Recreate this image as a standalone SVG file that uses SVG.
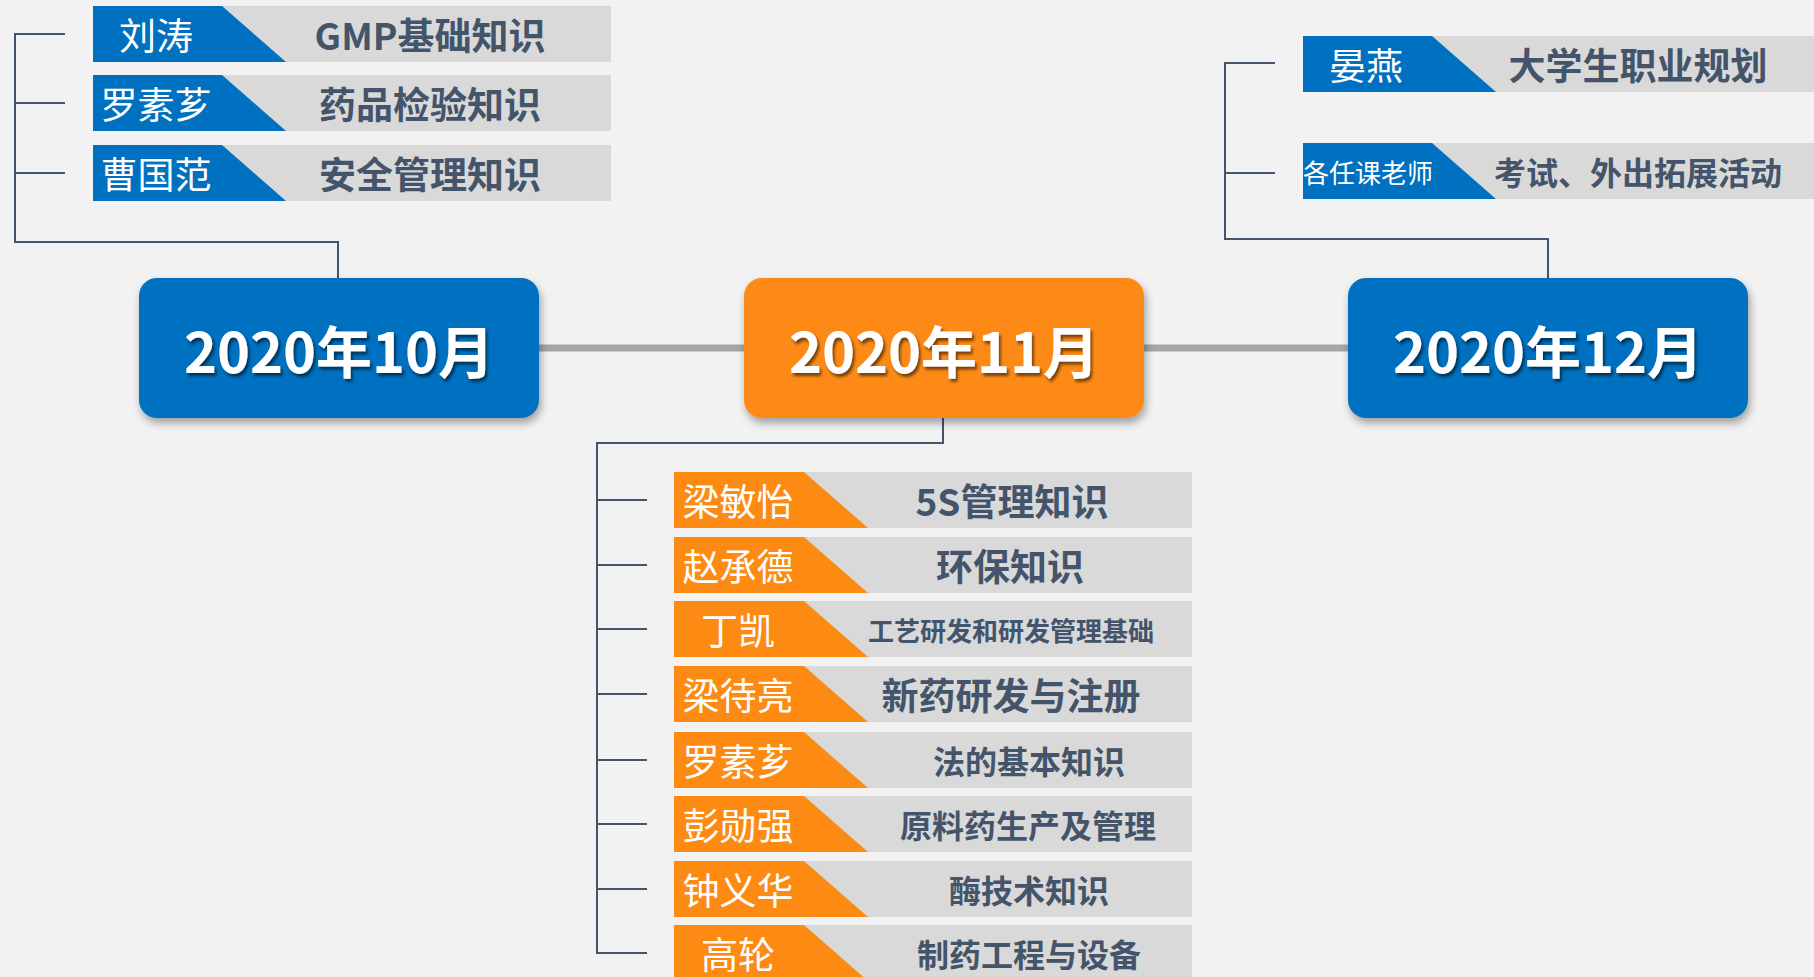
<svg xmlns="http://www.w3.org/2000/svg" width="1814" height="977" viewBox="0 0 1814 977">
<defs>
<style>
.bg{fill:#F2F2F2}
.bar{fill:#D9D9D9}
.blue{fill:#0070C0}
.orange{fill:#FD8A13}
.name{font-family:"Noto Sans CJK SC","Noto Sans",sans-serif;fill:#FFFFFF;font-weight:400;text-anchor:middle;dominant-baseline:central}
.topic{font-family:"Noto Sans CJK SC","Noto Sans",sans-serif;fill:#44546A;font-weight:700;text-anchor:middle;dominant-baseline:central}
.month{font-family:"Noto Sans CJK SC","Noto Sans",sans-serif;fill:#FFFFFF;font-weight:700;font-size:56px;text-anchor:middle;dominant-baseline:central}
.conn{fill:none;stroke:#44546A;stroke-width:2}
.timeline{fill:none;stroke:#A6A6A6;stroke-width:7}
</style>
<filter id="nodeShadow" x="-10%" y="-10%" width="125%" height="135%">
<feDropShadow dx="2" dy="5" stdDeviation="4" flood-color="#000" flood-opacity="0.35"/>
</filter>
<filter id="textShadow" x="-10%" y="-20%" width="125%" height="150%">
<feDropShadow dx="2" dy="3" stdDeviation="1.5" flood-color="#000" flood-opacity="0.55"/>
</filter>
</defs>
<rect class="bg" x="0" y="0" width="1814" height="977"/>

<g id="connectors">
<line class="timeline" x1="539" y1="348" x2="744" y2="348"/>
<line class="timeline" x1="1144" y1="348" x2="1348" y2="348"/>
<path class="conn" d="M338 278 V242 H15 V34 H65 M15 103 H65 M15 173 H65"/>
<path class="conn" d="M1548 278 V239 H1225 V63 H1275 M1225 173 H1275"/>
<path class="conn" d="M943 418 V443 H597 V953 H647 M597 500 H647 M597 565 H647 M597 629 H647 M597 694 H647 M597 760 H647 M597 824 H647 M597 889 H647"/>
</g>

<g id="node-oct">
<rect x="139" y="278" width="400" height="140" rx="18" class="blue" filter="url(#nodeShadow)"/>
<text x="339" y="348" class="month" filter="url(#textShadow)">2020年10月</text>
</g>
<g id="node-nov">
<rect x="744" y="278" width="400" height="140" rx="18" class="orange" filter="url(#nodeShadow)"/>
<text x="944" y="348" class="month" filter="url(#textShadow)">2020年11月</text>
</g>
<g id="node-dec">
<rect x="1348" y="278" width="400" height="140" rx="18" class="blue" filter="url(#nodeShadow)"/>
<text x="1548" y="348" class="month" filter="url(#textShadow)">2020年12月</text>
</g>

<g id="oct-1">
<rect class="bar" x="93" y="6" width="518" height="56"/>
<polygon class="blue" points="93,6 222,6 286,62 93,62"/>
<text class="name" x="156" y="34" font-size="37">刘涛</text>
<text class="topic" x="430" y="34" font-size="37">GMP基础知识</text>
</g>
<g id="oct-2">
<rect class="bar" x="93" y="75" width="518" height="56"/>
<polygon class="blue" points="93,75 222,75 286,131 93,131"/>
<text class="name" x="156" y="103" font-size="37">罗素芗</text>
<text class="topic" x="430" y="103" font-size="37">药品检验知识</text>
</g>
<g id="oct-3">
<rect class="bar" x="93" y="145" width="518" height="56"/>
<polygon class="blue" points="93,145 222,145 286,201 93,201"/>
<text class="name" x="156" y="173" font-size="37">曹国范</text>
<text class="topic" x="430" y="173" font-size="37">安全管理知识</text>
</g>

<g id="dec-1">
<rect class="bar" x="1303" y="36" width="511" height="56"/>
<polygon class="blue" points="1303,36 1432,36 1496,92 1303,92"/>
<text class="name" x="1366" y="64" font-size="37">晏燕</text>
<text class="topic" x="1638" y="64" font-size="37">大学生职业规划</text>
</g>
<g id="dec-2">
<rect class="bar" x="1303" y="143" width="511" height="56"/>
<polygon class="blue" points="1303,143 1432,143 1496,199 1303,199"/>
<text class="name" x="1368" y="171" font-size="26">各任课老师</text>
<text class="topic" x="1638" y="171" font-size="32">考试、外出拓展活动</text>
</g>

<g id="nov-1">
<rect class="bar" x="674" y="472" width="518" height="56"/>
<polygon class="orange" points="674,472 804,472 868,528 674,528"/>
<text class="name" x="738" y="500" font-size="37">梁敏怡</text>
<text class="topic" x="1012" y="500" font-size="37">5S管理知识</text>
</g>
<g id="nov-2">
<rect class="bar" x="674" y="537" width="518" height="56"/>
<polygon class="orange" points="674,537 804,537 868,593 674,593"/>
<text class="name" x="738" y="565" font-size="37">赵承德</text>
<text class="topic" x="1010" y="565" font-size="37">环保知识</text>
</g>
<g id="nov-3">
<rect class="bar" x="674" y="601" width="518" height="56"/>
<polygon class="orange" points="674,601 804,601 868,657 674,657"/>
<text class="name" x="738" y="629" font-size="37">丁凯</text>
<text class="topic" x="1011" y="629" font-size="26">工艺研发和研发管理基础</text>
</g>
<g id="nov-4">
<rect class="bar" x="674" y="666" width="518" height="56"/>
<polygon class="orange" points="674,666 804,666 868,722 674,722"/>
<text class="name" x="738" y="694" font-size="37">梁待亮</text>
<text class="topic" x="1011" y="694" font-size="37">新药研发与注册</text>
</g>
<g id="nov-5">
<rect class="bar" x="674" y="732" width="518" height="56"/>
<polygon class="orange" points="674,732 804,732 868,788 674,788"/>
<text class="name" x="738" y="760" font-size="37">罗素芗</text>
<text class="topic" x="1029" y="760" font-size="32">法的基本知识</text>
</g>
<g id="nov-6">
<rect class="bar" x="674" y="796" width="518" height="56"/>
<polygon class="orange" points="674,796 804,796 868,852 674,852"/>
<text class="name" x="738" y="824" font-size="37">彭勋强</text>
<text class="topic" x="1028" y="824" font-size="32">原料药生产及管理</text>
</g>
<g id="nov-7">
<rect class="bar" x="674" y="861" width="518" height="56"/>
<polygon class="orange" points="674,861 804,861 868,917 674,917"/>
<text class="name" x="738" y="889" font-size="37">钟义华</text>
<text class="topic" x="1029" y="889" font-size="32">酶技术知识</text>
</g>
<g id="nov-8">
<rect class="bar" x="674" y="925" width="518" height="56"/>
<polygon class="orange" points="674,925 804,925 868,981 674,981"/>
<text class="name" x="738" y="953" font-size="37">高轮</text>
<text class="topic" x="1029" y="953" font-size="32">制药工程与设备</text>
</g>
</svg>
